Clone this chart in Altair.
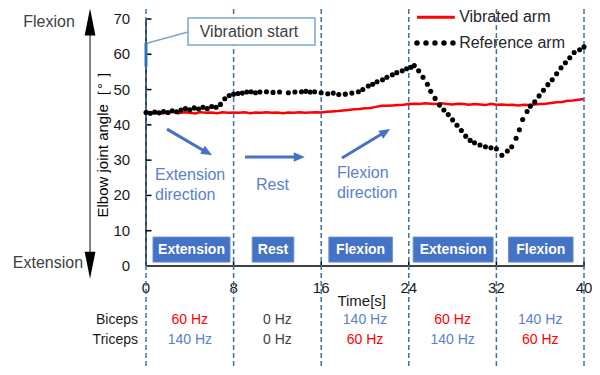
import altair as alt
import pandas as pd

FONT = "Liberation Sans"

# ---------------- data ----------------
# Reference arm (black dots): time [s], angle [deg]
ref_t = [0.0, 0.4, 0.8, 1.2, 1.6, 2.0, 2.4, 2.8, 3.2, 3.6, 4.0, 4.4, 4.8, 5.2, 5.6, 6.0, 6.4, 6.8,
         7.2, 7.6, 8.0, 8.4, 8.8, 9.2, 9.6, 10.0, 10.4, 11.0, 11.6, 12.2, 13.0, 13.6, 14.2, 14.6,
         15.0, 15.4, 16.0, 16.6, 17.1, 17.6, 18.2, 18.8, 19.4, 19.8, 20.3, 20.7, 21.1, 21.6, 22.0,
         22.5, 22.9, 23.4, 23.8, 24.2, 24.5, 24.9, 25.3, 25.7, 26.0, 26.4, 26.8, 27.2, 27.6, 28.0,
         28.4, 28.8, 29.2, 29.6, 30.0, 30.5, 31.0, 31.5, 32.0, 32.5, 33.0, 33.4, 33.8, 34.1, 34.4,
         34.8, 35.1, 35.5, 35.9, 36.3, 36.7, 37.1, 37.5, 37.9, 38.3, 38.7, 39.1, 39.6, 40.0]
ref_v = [43.5, 43.3, 43.6, 43.4, 43.8, 43.5, 44.0, 43.7, 44.2, 44.6, 44.3, 44.8, 44.5, 45.0, 44.6,
         45.2, 45.0, 45.8, 47.4, 48.3, 48.7, 48.9, 49.0, 49.3, 49.4, 49.1, 49.3, 49.4, 49.2, 49.3,
         49.1, 49.3, 49.4, 49.5, 49.3, 49.4, 49.1, 48.8, 49.0, 48.6, 48.7, 49.0, 49.4, 50.0, 51.0,
         51.5, 52.2, 52.8, 53.5, 54.2, 54.8, 55.3, 55.9, 56.3, 56.8, 55.3, 53.5, 51.5, 49.5, 47.5,
         45.6, 44.2, 42.9, 41.4, 39.9, 38.4, 36.8, 35.6, 34.9, 34.3, 33.8, 33.5, 33.2, 31.4, 32.6,
         33.8, 36.2, 38.6, 41.5, 43.8, 45.3, 46.5, 48.2, 49.8, 51.4, 52.8, 54.5, 56.2, 57.6, 59.0,
         60.5, 61.3, 62.1]

# Vibrated arm (red line), sampled every 0.5 s
vib_t = [k / 2 for k in range(81)]
vib_v = [43.9, 43.4, 43.6, 43.2, 43.5, 43.7, 43.3, 43.6, 43.4, 43.2, 43.6, 43.4, 43.5, 43.3, 43.6, 43.4, 43.5,
         43.4, 43.6, 43.3, 43.5, 43.4, 43.6, 43.4, 43.5, 43.3, 43.5, 43.4, 43.6, 43.4, 43.5, 43.6, 43.5,
         43.7, 43.8, 43.9, 44.1, 44.2, 44.4, 44.5, 44.7, 44.8, 45.1, 45.4, 45.4, 45.5, 45.6, 45.7, 45.9,
         46.0, 45.9, 46.1, 46.0, 45.9, 46.1, 45.9, 45.8, 46.0, 45.9, 45.7, 45.9, 45.8, 45.6, 46.0, 45.7,
         45.8, 45.6, 45.7, 45.5, 45.7, 45.6, 45.8, 45.9, 46.0, 46.2, 46.4, 46.5, 46.8, 46.9, 47.1, 47.3]

boundaries = [0, 8, 16, 24, 32, 40]
y_ticks = [0, 10, 20, 30, 40, 50, 60, 70]
y_title = "Elbow joint angle［° ］"
x_title = "Time[s]"

phase_labels = ["Extension", "Rest", "Flexion", "Extension", "Flexion"]
phase_start = [0.64, 9.7, 16.7, 24.4, 33.1]
phase_end = [7.67, 13.5, 22.5, 31.7, 39.0]

hz_t = [4, 12, 20, 28, 36]
biceps_hz = ["60 Hz", "0 Hz", "140 Hz", "60 Hz", "140 Hz"]
triceps_hz = ["140 Hz", "0 Hz", "60 Hz", "140 Hz", "60 Hz"]

RED = "#FF0000"
BLUE_TXT = "#5A80D0"
BOX_BLUE = "#4472C4"
DASH_BLUE = "#3D72A8"
hz_color = {"60 Hz": RED, "0 Hz": "#404040", "140 Hz": BLUE_TXT}

# ---------------- helpers ----------------
xs = alt.Scale(domain=[0, 40], nice=False, zero=False)
ys = alt.Scale(domain=[0, 70], nice=False, zero=False)


def X(f="t"):
    return alt.X(f"{f}:Q", scale=xs, axis=None)


def Y(f="v"):
    return alt.Y(f"{f}:Q", scale=ys, axis=None)


def seg(t1, v1, t2, v2, color, width, dash=None):
    kw = dict(color=color, strokeWidth=width)
    if dash:
        kw["strokeDash"] = dash
    return alt.Chart(pd.DataFrame({"t": [t1], "v": [v1], "t2": [t2], "v2": [v2]})).mark_rule(**kw).encode(
        x=X(), x2="t2:Q", y=Y(), y2="v2:Q")


def txt(items, size, color, align="left", weight="normal", angle=0):
    df = pd.DataFrame(items, columns=["t", "v", "label"])
    return alt.Chart(df).mark_text(font=FONT, fontSize=size, color=color, align=align,
                                   baseline="middle", fontWeight=weight, angle=angle).encode(
        x=X(), y=Y(), text="label:N")


def head(t, v, path, size, color, angle=0):
    return alt.Chart(pd.DataFrame({"t": [t], "v": [v]})).mark_point(
        shape=path, size=size, filled=True, color=color, opacity=1, angle=angle, strokeWidth=0).encode(
        x=X(), y=Y())


ARROW_R = "M 0 0 L -2 -0.85 L -2 0.85 Z"
ARROW_UP = "M 0 0 L -0.4 2 L 0.4 2 Z"
ARROW_DN = "M 0 0 L -0.4 -2 L 0.4 -2 Z"

# ---------------- axes (drawn as marks) ----------------
x_axis_line = seg(0, 0, 40, 0, "black", 1.5)
y_axis_line = seg(0, 0, 0, 70, "black", 1.5)

ytick_df = pd.DataFrame({"t": [0] * 7, "t2": [0.5] * 7, "v": y_ticks[1:]})
yticks = alt.Chart(ytick_df).mark_rule(color="black", strokeWidth=1.5).encode(x=X(), x2="t2:Q", y=Y())
xtick_df = pd.DataFrame({"t": boundaries[1:], "v": [-0.3] * 5, "v2": [1.3] * 5})
xticks = alt.Chart(xtick_df).mark_rule(color="black", strokeWidth=1.5).encode(x=X(), y=Y(), y2="v2:Q")

ylab_df = pd.DataFrame({"t": [-1.45] * len(y_ticks), "v": y_ticks, "label": [str(v) for v in y_ticks]})
ylabels = alt.Chart(ylab_df).mark_text(font=FONT, fontSize=15, color="#1a1a1a", align="right",
                                       baseline="middle").encode(x=X(), y=Y(), text="label:N")
xlab_df = pd.DataFrame({"t": boundaries, "v": [-6.2] * len(boundaries), "label": [str(b) for b in boundaries]})
xlabels = alt.Chart(xlab_df).mark_text(font=FONT, fontSize=15, color="#1a1a1a", align="center",
                                       baseline="middle").encode(x=X(), y=Y(), text="label:N")
ytitle = txt([[-3.95, 35.5, y_title]], 15, "black", align="center", angle=270)
xtitle = txt([[19.7, -10.0, x_title]], 15, "#1a1a1a", align="center")

# ---------------- data layers ----------------
phase_df = pd.DataFrame({"t": phase_start, "t2": phase_end, "label": phase_labels})
phase_df["mid"] = [(a + b) / 2 for a, b in zip(phase_start, phase_end)]
phase_df["v"] = 1.1
phase_df["v2"] = 8.2
phase_df["vm"] = 4.65

boxes = alt.Chart(phase_df).mark_rect(color=BOX_BLUE, stroke="#6A8FD3", strokeWidth=1).encode(
    x=X(), x2="t2:Q", y=Y(), y2="v2:Q")
box_text = alt.Chart(phase_df).mark_text(font=FONT, fontSize=14, fontWeight="bold", color="white",
                                         baseline="middle").encode(
    x=X("mid"), y=Y("vm"), text="label:N")

vib_df = pd.DataFrame({"t": vib_t, "v": vib_v})
red_line = alt.Chart(vib_df).mark_line(color=RED, strokeWidth=2.5).encode(x=X(), y=Y())

dash_df = pd.DataFrame({"t": boundaries, "v": [72.8] * 6, "v2": [-29.0] * 6})
dashes = alt.Chart(dash_df).mark_rule(color=DASH_BLUE, strokeDash=[5, 3], strokeWidth=1.5).encode(
    x=X(), y=Y(), y2="v2:Q")

ref_df = pd.DataFrame({"t": ref_t, "v": ref_v})
dots = alt.Chart(ref_df).mark_circle(size=26, color="black", opacity=1).encode(x=X(), y=Y())

# callout "Vibration start"
callout_box = alt.Chart(pd.DataFrame({"t": [3.84], "t2": [15.43], "v": [70.25], "v2": [62.6]})).mark_rect(
    fill="white", stroke="#7EA6C9", strokeWidth=1.5).encode(x=X(), x2="t2:Q", y=Y(), y2="v2:Q")
callout_text = txt([[9.4, 66.4, "Vibration start"]], 16, "#404040", align="center")
pointer = seg(0.06, 63.1, 3.84, 66.3, "#7EA6C9", 1.5)
pointer_mark = seg(0, 63.3, 0, 56.5, "#2E75B6", 3)

# legend
leg_line = seg(24.75, 70.5, 28.2, 70.5, RED, 3)
leg_dots = alt.Chart(pd.DataFrame({"t": [24.75, 25.57, 26.39, 27.21, 28.03], "v": [63.2] * 5})).mark_circle(
    size=30, color="black", opacity=1).encode(x=X(), y=Y())
leg_text = txt([[28.6, 70.5, "Vibrated arm"], [28.6, 63.2, "Reference arm"]], 16, "#262626")

# blue direction arrows
arr1 = seg(1.92, 38.8, 5.6, 32.1, BOX_BLUE, 3)
arr1h = head(6.03, 31.4, ARROW_R, 121, BOX_BLUE, 30)
arr2 = seg(9.04, 30.9, 14.0, 30.9, BOX_BLUE, 3)
arr2h = head(14.5, 30.9, ARROW_R, 121, BOX_BLUE, 0)
arr3 = seg(17.9, 30.6, 21.9, 38.1, BOX_BLUE, 3)
arr3h = head(22.3, 38.8, ARROW_R, 121, BOX_BLUE, 329)

notes = txt([[0.82, 25.8, "Extension"], [0.82, 20.2, "direction"], [10.05, 22.9, "Rest"],
             [17.44, 26.3, "Flexion"], [17.44, 20.7, "direction"]], 16, BLUE_TXT)

# left-hand Flexion / Extension arrow
side_text = txt([[-6.5, 69.1, "Flexion"], [-5.75, 0.85, "Extension"]], 16, "#404040", align="right")
gray_line = seg(-5.11, 66.5, -5.11, 3.0, "#808080", 2)
up_head = head(-5.11, 73.0, ARROW_UP, 729, "black")
dn_head = head(-5.11, -3.6, ARROW_DN, 729, "black")

# bottom annotations
row_names = txt([[-0.73, -15.2, "Biceps"], [-0.73, -20.9, "Triceps"]], 14, "#1a1a1a", align="right")

hz_df = pd.DataFrame({
    "t": hz_t + hz_t,
    "v": [-15.2] * 5 + [-20.9] * 5,
    "label": biceps_hz + triceps_hz,
})
hz_df["col"] = [hz_color[s] for s in hz_df["label"]]
hz_text = alt.Chart(hz_df).mark_text(font=FONT, fontSize=14, baseline="middle", align="center").encode(
    x=X(), y=Y(), text="label:N", color=alt.Color("col:N", scale=None))

chart = alt.layer(
    x_axis_line, y_axis_line, yticks, xticks, ylabels, xlabels, ytitle, xtitle,
    red_line, boxes, box_text, dashes, dots,
    callout_box, callout_text, pointer, pointer_mark,
    leg_line, leg_dots, leg_text,
    arr1, arr1h, arr2, arr2h, arr3, arr3h, notes,
    side_text, gray_line, up_head, dn_head,
    row_names, hz_text,
).properties(
    width=438, height=247,
    autosize=alt.AutoSizeParams(type="none"),
    padding={"left": 138, "top": 11, "right": 8, "bottom": 100},
).configure_view(stroke=None)

chart.save("out.html", embed_options={"renderer": "svg", "actions": False})
